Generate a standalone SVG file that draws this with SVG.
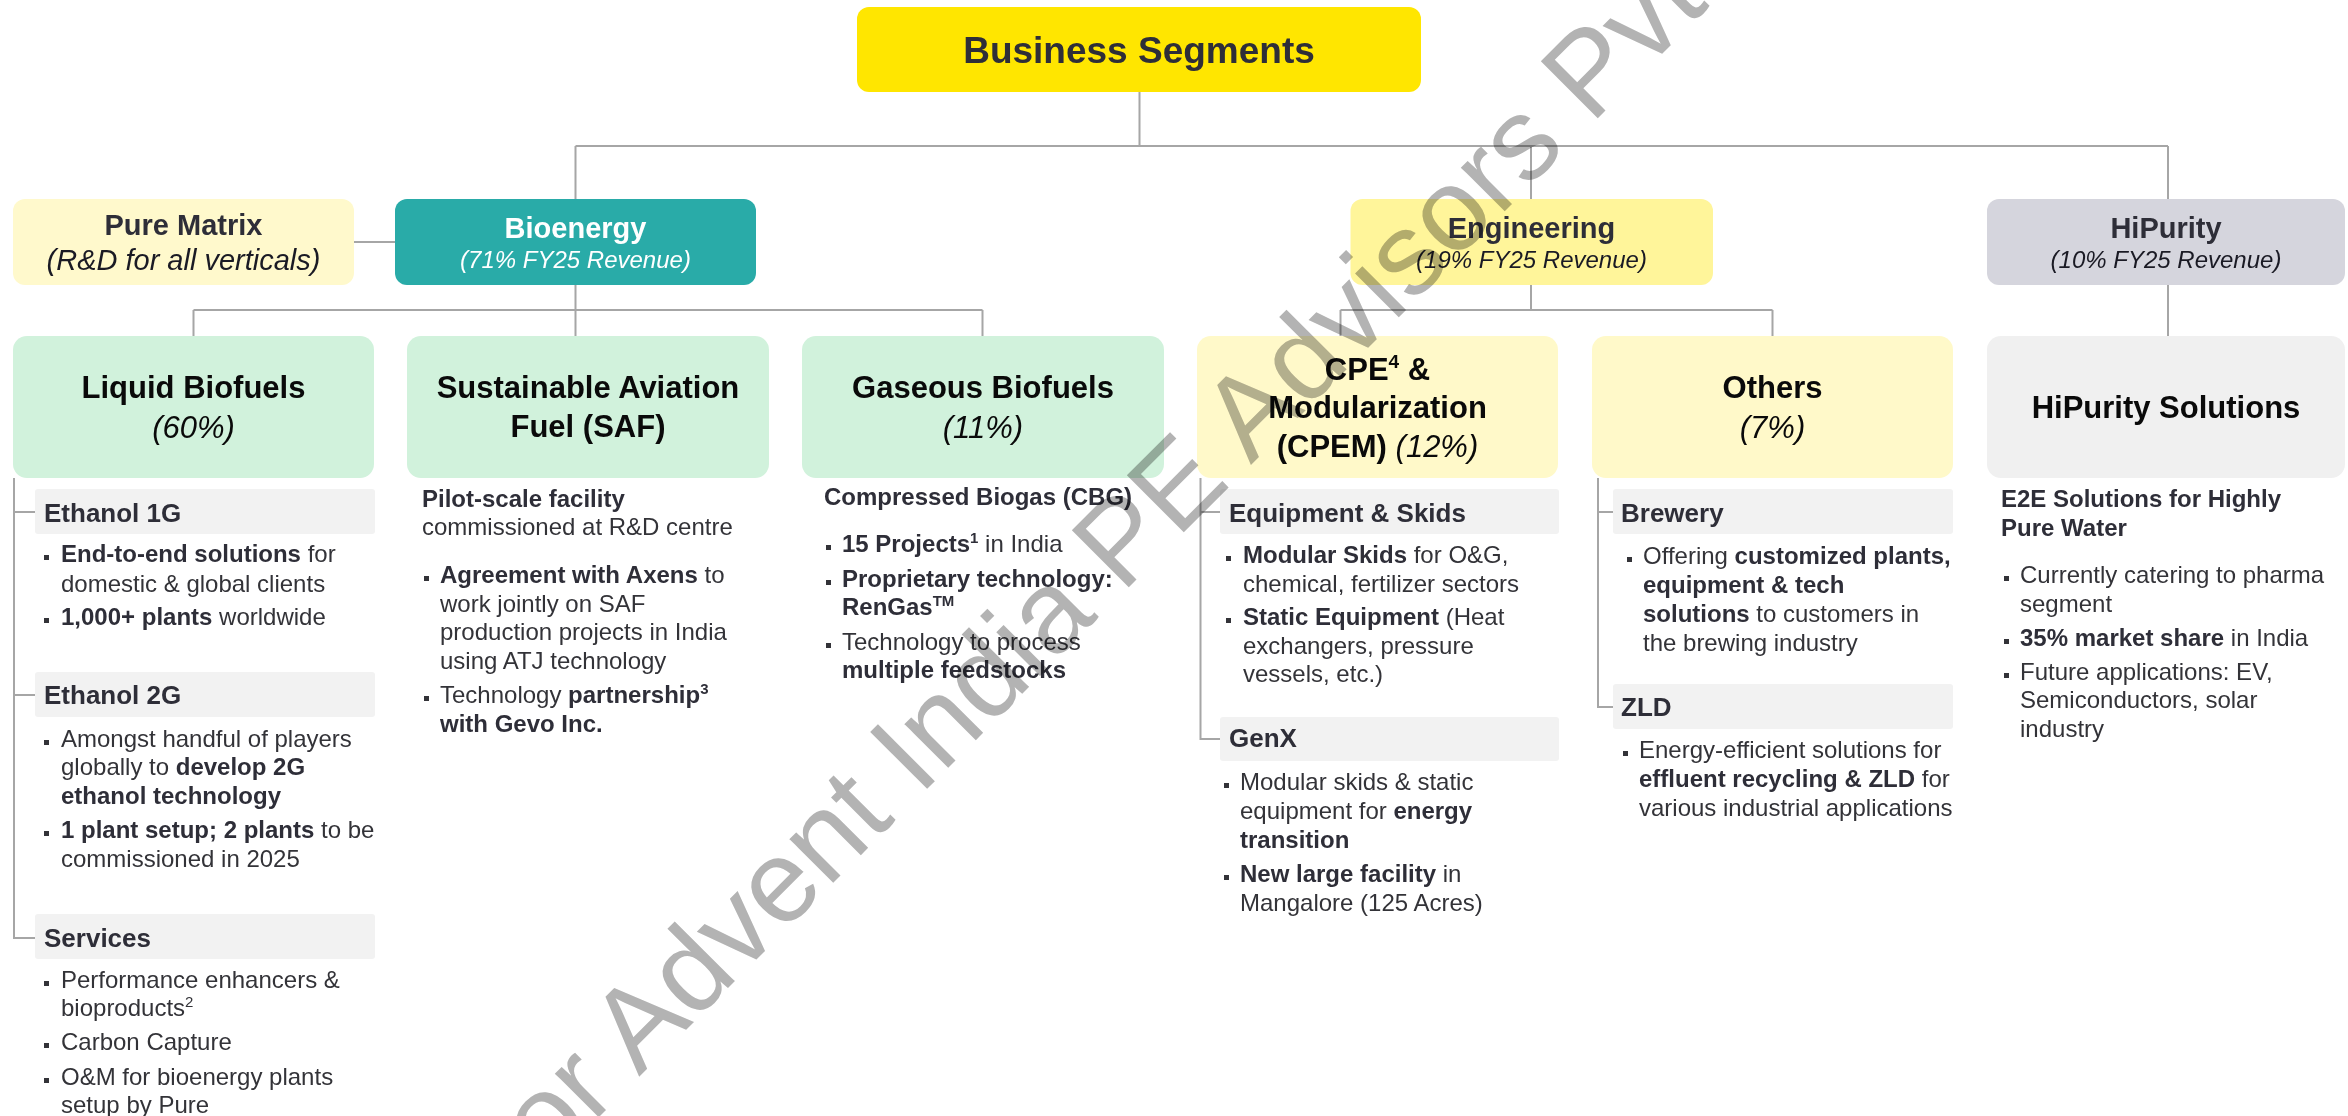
<svg xmlns="http://www.w3.org/2000/svg" width="2348" height="1116" viewBox="0 0 2348 1116">
<style>
text{font-family:"Liberation Sans",Arial,Helvetica,sans-serif}
.ln{fill:none;stroke:#A6A6A6;stroke-width:2}
.hd{font-size:29px;font-weight:bold;fill:#2E2E38;text-anchor:middle}
.sub{font-size:24px;font-style:italic;fill:#1A1A24;text-anchor:middle}
.cat{font-size:31px;font-weight:bold;fill:#0A0A0A;text-anchor:middle}
.pct{font-style:italic;font-weight:normal}
.sec{fill:#F2F2F2}
.st{font-size:26px;font-weight:bold;fill:#2E2E38}
.bd{font-size:24px;fill:#333338}
.b{font-weight:bold;fill:#2E2E38}
.sup{font-size:15px}
.blt{fill:#333338}
.wm{font-size:117px;fill:#B3B3B3;mix-blend-mode:multiply}
</style>
<rect x="0" y="0" width="2348" height="1116" fill="#FFFFFF"/>

<!-- connectors -->
<g id="connectors">
  <path class="ln" d="M1139.5 92 V146 M575.5 146 H2168 M575.5 146 V199 M1531 146 V199 M2168 146 V199"/>
  <path class="ln" d="M354 242 H395"/>
  <path class="ln" d="M575.5 285 V336 M193.5 310 H982.5 M193.5 310 V336 M982.5 310 V336"/>
  <path class="ln" d="M1531 285 V310 M1340.5 310 H1772.5 M1340.5 310 V336 M1772.5 310 V336"/>
  <path class="ln" d="M2168 285 V336"/>
  <!-- section trees -->
  <path class="ln" d="M14 478 V938 H35 M14 512 H35 M14 695 H35"/>
  <path class="ln" d="M1200.5 478 V739 H1220 M1200.5 512 H1220"/>
  <path class="ln" d="M1598 478 V707 H1613 M1598 512 H1613"/>
</g>

<!-- root -->
<g id="business-segments">
  <rect x="857" y="7" width="564" height="85" rx="12" fill="#FFE600"/>
  <text x="1139" y="63" font-size="37" font-weight="bold" fill="#2E2E38" text-anchor="middle">Business Segments</text>
</g>

<!-- segments -->
<g id="pure-matrix">
  <rect x="13" y="199" width="341" height="86" rx="12" fill="#FFF9CC"/>
  <text class="hd" x="183.5" y="235">Pure Matrix</text>
  <text class="sub" x="183.5" y="270" font-size="29" fill="#2E2E38" style="font-size:29px">(R&amp;D for all verticals)</text>
</g>
<g id="bioenergy">
  <rect x="395" y="199" width="361" height="86" rx="12" fill="#29ABA8"/>
  <text class="hd" x="575.5" y="238" style="fill:#FFFFFF">Bioenergy</text>
  <text class="sub" x="575.5" y="268" style="fill:#FFFFFF">(71% FY25 Revenue)</text>
</g>
<g id="engineering">
  <rect x="1350.5" y="199" width="362.5" height="86" rx="12" fill="#FFF59A"/>
  <text class="hd" x="1531.5" y="238">Engineering</text>
  <text class="sub" x="1531.5" y="268">(19% FY25 Revenue)</text>
</g>
<g id="hipurity">
  <rect x="1987" y="199" width="358" height="86" rx="12" fill="#D5D5DD"/>
  <text class="hd" x="2166" y="238">HiPurity</text>
  <text class="sub" x="2166" y="268">(10% FY25 Revenue)</text>
</g>

<!-- Liquid Biofuels -->
<g id="liquid-biofuels">
  <rect x="13" y="336" width="361" height="142" rx="14" fill="#D1F2DC"/>
  <text class="cat" x="193.5" y="398">Liquid Biofuels</text>
  <text class="cat pct" x="193.5" y="438">(60%)</text>
  <rect class="sec" x="35" y="489" width="340" height="45" rx="3"/>
  <text class="st" x="44" y="522">Ethanol 1G</text>
  <rect class="blt" x="44" y="555" width="5" height="5"/>
  <text class="bd" x="61" y="562"><tspan class="b">End-to-end solutions</tspan> for</text>
  <text class="bd" x="61" y="592">domestic &amp; global clients</text>
  <rect class="blt" x="44" y="618" width="5" height="5"/>
  <text class="bd" x="61" y="625"><tspan class="b">1,000+ plants</tspan> worldwide</text>
  <rect class="sec" x="35" y="672" width="340" height="45" rx="3"/>
  <text class="st" x="44" y="704">Ethanol 2G</text>
  <rect class="blt" x="44" y="740" width="5" height="5"/>
  <text class="bd" x="61" y="747">Amongst handful of players</text>
  <text class="bd" x="61" y="775">globally to <tspan class="b">develop 2G</tspan></text>
  <text class="bd b" x="61" y="804">ethanol technology</text>
  <rect class="blt" x="44" y="831" width="5" height="5"/>
  <text class="bd" x="61" y="838"><tspan class="b">1 plant setup; 2 plants</tspan> to be</text>
  <text class="bd" x="61" y="867">commissioned in 2025</text>
  <rect class="sec" x="35" y="914" width="340" height="45" rx="3"/>
  <text class="st" x="44" y="947">Services</text>
  <rect class="blt" x="44" y="981" width="5" height="5"/>
  <text class="bd" x="61" y="988">Performance enhancers &amp;</text>
  <text class="bd" x="61" y="1016">bioproducts<tspan class="sup" dy="-9">2</tspan></text>
  <rect class="blt" x="44" y="1043" width="5" height="5"/>
  <text class="bd" x="61" y="1050">Carbon Capture</text>
  <rect class="blt" x="44" y="1078" width="5" height="5"/>
  <text class="bd" x="61" y="1085">O&amp;M for bioenergy plants</text>
  <text class="bd" x="61" y="1113">setup by Pure</text>
</g>

<!-- Sustainable Aviation Fuel -->
<g id="saf">
  <rect x="407" y="336" width="362" height="142" rx="14" fill="#D1F2DC"/>
  <text class="cat" x="588" y="398">Sustainable Aviation</text>
  <text class="cat" x="588" y="437">Fuel (SAF)</text>
  <text class="bd b" x="422" y="507">Pilot-scale facility</text>
  <text class="bd" x="422" y="535">commissioned at R&amp;D centre</text>
  <rect class="blt" x="424" y="576" width="5" height="5"/>
  <text class="bd" x="440" y="583"><tspan class="b">Agreement with Axens</tspan> to</text>
  <text class="bd" x="440" y="612">work jointly on SAF</text>
  <text class="bd" x="440" y="640">production projects in India</text>
  <text class="bd" x="440" y="669">using ATJ technology</text>
  <rect class="blt" x="424" y="696" width="5" height="5"/>
  <text class="bd" x="440" y="703">Technology <tspan class="b">partnership</tspan><tspan class="b sup" dy="-9">3</tspan></text>
  <text class="bd b" x="440" y="732">with Gevo Inc.</text>
</g>

<!-- Gaseous Biofuels -->
<g id="gaseous-biofuels">
  <rect x="802" y="336" width="362" height="142" rx="14" fill="#D1F2DC"/>
  <text class="cat" x="983" y="398">Gaseous Biofuels</text>
  <text class="cat pct" x="983" y="438">(11%)</text>
  <text class="bd b" x="824" y="505">Compressed Biogas (CBG)</text>
  <rect class="blt" x="826" y="545" width="5" height="5"/>
  <text class="bd" x="842" y="552"><tspan class="b">15 Projects</tspan><tspan class="b sup" dy="-9">1</tspan><tspan dy="9"> in India</tspan></text>
  <rect class="blt" x="826" y="580" width="5" height="5"/>
  <text class="bd b" x="842" y="587">Proprietary technology:</text>
  <text class="bd b" x="842" y="615">RenGas<tspan class="sup" dy="-9">TM</tspan></text>
  <rect class="blt" x="826" y="643" width="5" height="5"/>
  <text class="bd" x="842" y="650">Technology to process</text>
  <text class="bd b" x="842" y="678">multiple feedstocks</text>
</g>

<!-- CPE & Modularization -->
<g id="cpem">
  <rect x="1197" y="336" width="361" height="142" rx="14" fill="#FFF9C9"/>
  <text class="cat" x="1377.5" y="380">CPE<tspan class="sup" style="font-size:19px" dy="-12">4</tspan><tspan dy="12"> &amp;</tspan></text>
  <text class="cat" x="1377.5" y="418">Modularization</text>
  <text class="cat" x="1377.5" y="457">(CPEM) <tspan class="pct">(12%)</tspan></text>
  <rect class="sec" x="1220" y="489" width="339" height="45" rx="3"/>
  <text class="st" x="1229" y="522">Equipment &amp; Skids</text>
  <rect class="blt" x="1226" y="556" width="5" height="5"/>
  <text class="bd" x="1243" y="563"><tspan class="b">Modular Skids</tspan> for O&amp;G,</text>
  <text class="bd" x="1243" y="592">chemical, fertilizer sectors</text>
  <rect class="blt" x="1226" y="618" width="5" height="5"/>
  <text class="bd" x="1243" y="625"><tspan class="b">Static Equipment</tspan> (Heat</text>
  <text class="bd" x="1243" y="654">exchangers, pressure</text>
  <text class="bd" x="1243" y="682">vessels, etc.)</text>
  <rect class="sec" x="1220" y="717" width="339" height="44" rx="3"/>
  <text class="st" x="1229" y="747">GenX</text>
  <rect class="blt" x="1224" y="783" width="5" height="5"/>
  <text class="bd" x="1240" y="790">Modular skids &amp; static</text>
  <text class="bd" x="1240" y="819">equipment for <tspan class="b">energy</tspan></text>
  <text class="bd b" x="1240" y="848">transition</text>
  <rect class="blt" x="1224" y="875" width="5" height="5"/>
  <text class="bd" x="1240" y="882"><tspan class="b">New large facility</tspan> in</text>
  <text class="bd" x="1240" y="911">Mangalore (125 Acres)</text>
</g>

<!-- Others -->
<g id="others">
  <rect x="1592" y="336" width="361" height="142" rx="14" fill="#FFF9C9"/>
  <text class="cat" x="1772.5" y="398">Others</text>
  <text class="cat pct" x="1772.5" y="438">(7%)</text>
  <rect class="sec" x="1613" y="489" width="340" height="45" rx="3"/>
  <text class="st" x="1621" y="522">Brewery</text>
  <rect class="blt" x="1627" y="557" width="5" height="5"/>
  <text class="bd" x="1643" y="564">Offering <tspan class="b">customized plants,</tspan></text>
  <text class="bd b" x="1643" y="593">equipment &amp; tech</text>
  <text class="bd" x="1643" y="622"><tspan class="b">solutions</tspan> to customers in</text>
  <text class="bd" x="1643" y="651">the brewing industry</text>
  <rect class="sec" x="1613" y="684" width="340" height="45" rx="3"/>
  <text class="st" x="1621" y="716">ZLD</text>
  <rect class="blt" x="1623" y="751" width="5" height="5"/>
  <text class="bd" x="1639" y="758">Energy-efficient solutions for</text>
  <text class="bd" x="1639" y="787"><tspan class="b">effluent recycling &amp; ZLD</tspan> for</text>
  <text class="bd" x="1639" y="816">various industrial applications</text>
</g>

<!-- HiPurity Solutions -->
<g id="hipurity-solutions">
  <rect x="1987" y="336" width="358" height="142" rx="14" fill="#F0F0F0"/>
  <text class="cat" x="2166" y="418">HiPurity Solutions</text>
  <text class="bd b" x="2001" y="507">E2E Solutions for Highly</text>
  <text class="bd b" x="2001" y="536">Pure Water</text>
  <rect class="blt" x="2004" y="576" width="5" height="5"/>
  <text class="bd" x="2020" y="583">Currently catering to pharma</text>
  <text class="bd" x="2020" y="612">segment</text>
  <rect class="blt" x="2004" y="639" width="5" height="5"/>
  <text class="bd" x="2020" y="646"><tspan class="b">35% market share</tspan> in India</text>
  <rect class="blt" x="2004" y="673" width="5" height="5"/>
  <text class="bd" x="2020" y="680">Future applications: EV,</text>
  <text class="bd" x="2020" y="708">Semiconductors, solar</text>
  <text class="bd" x="2020" y="737">industry</text>
</g>

<!-- diagonal watermark -->
<g id="watermark">
  <text class="wm" transform="translate(547 1169) rotate(-45)">or Advent India PE Advisors Pvt</text>
</g>
</svg>
